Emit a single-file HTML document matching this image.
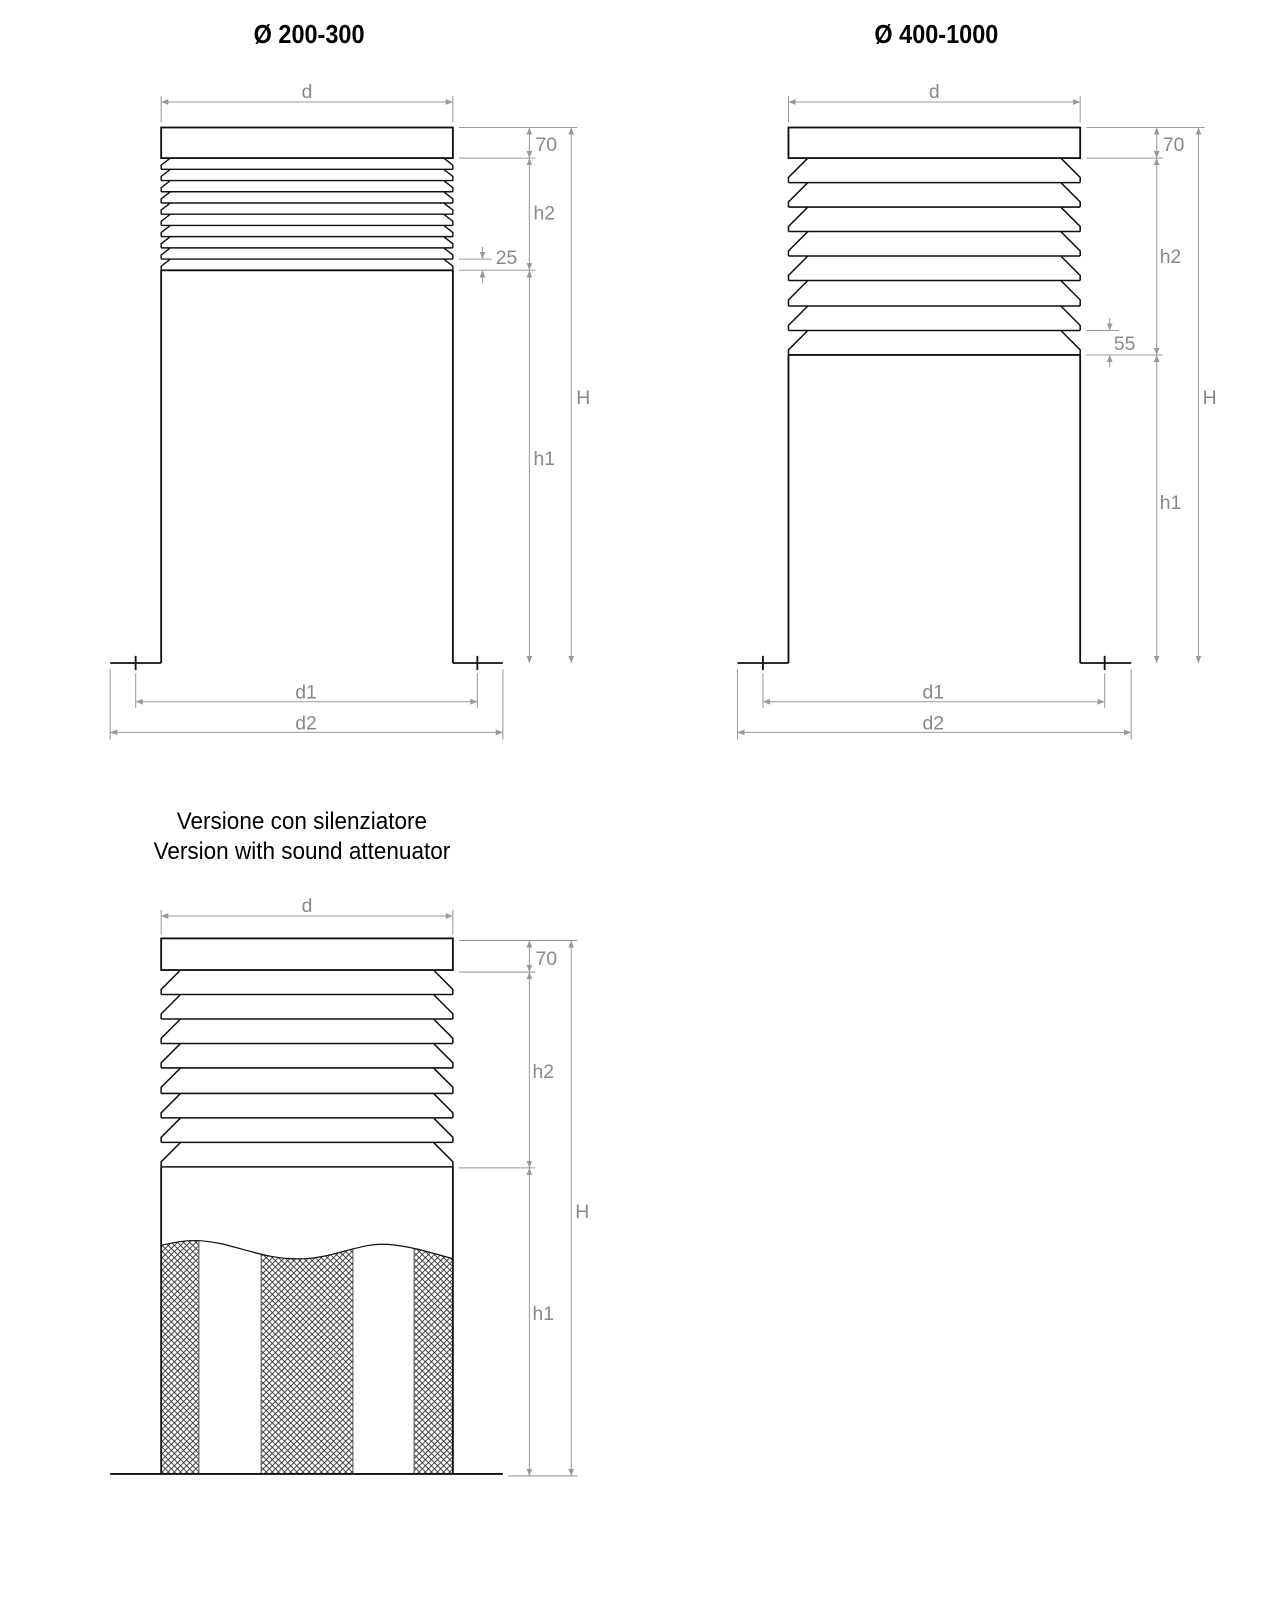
<!DOCTYPE html>
<html><head><meta charset="utf-8"><style>
html,body{margin:0;padding:0;background:#fff}
svg{display:block}
.t{font-family:"Liberation Sans",sans-serif}
.dim{font-family:"Liberation Sans",sans-serif;font-size:19px;fill:#888}
</style></head><body>
<svg width="1287" height="1600" viewBox="0 0 1287 1600" xmlns="http://www.w3.org/2000/svg">
<defs>
<marker id="a" viewBox="0 0 10 10" refX="10" refY="5" markerWidth="7" markerHeight="7" orient="auto-start-reverse"><path d="M0,1 L10,5 L0,9 z" fill="#999"/></marker>
<pattern id="hx" width="6" height="6" patternUnits="userSpaceOnUse">
<path d="M0,0 L6,6 M6,0 L0,6" stroke="#222" stroke-width="0.8"/>
</pattern>
<clipPath id="wc"><path d="M158,1221 C185,1214 200,1216 215,1219 C240,1224 265,1236 300,1234 C330,1232 355,1218 380,1220 C405,1222 425,1229 444,1234 V1445 H158 Z"/></clipPath>
</defs>
<g transform="scale(1.02)">
<text x="303" y="42" class="t" font-size="25" font-weight="bold" text-anchor="middle" transform="translate(303 0) scale(0.92 1) translate(-303 0)">Ø 200-300</text>
<text x="918" y="42" class="t" font-size="25" font-weight="bold" text-anchor="middle" transform="translate(918 0) scale(0.92 1) translate(-918 0)">Ø 400-1000</text>

<!-- Diagram 1 -->
<g fill="none" stroke="#111" stroke-width="1.8">
<rect x="158" y="125" width="286" height="30" fill="#fff"/>
<path d="M158,265 V650 M444,265 V650 M108,650 H158 M444,650 H493 M133,643 V657 M468,643 V657 M158,265 H444"/>
<path d="M167,155 L158,162 V166 M435,155 L444,162 V166 M158,166 H444 M167,166 L158,173 V177 M435,166 L444,173 V177 M158,177 H444 M167,177 L158,184 V188 M435,177 L444,184 V188 M158,188 H444 M167,188 L158,195 V199 M435,188 L444,195 V199 M158,199 H444 M167,199 L158,206 V210 M435,199 L444,206 V210 M158,210 H444 M167,210 L158,217 V221 M435,210 L444,217 V221 M158,221 H444 M167,221 L158,228 V232 M435,221 L444,228 V232 M158,232 H444 M167,232 L158,239 V243 M435,232 L444,239 V243 M158,243 H444 M167,243 L158,250 V254 M435,243 L444,250 V254 M158,254 H444 M167,254 L158,261 V265 M435,254 L444,261 V265" stroke-width="1.4"/>
</g>
<g stroke="#999" stroke-width="1" fill="none">
<path d="M158,94 V120 M444,94 V120 M450,125 H566 M450,155 H525 M450,265 H525 M450,254 H482 M108,656 V725 M493,656 V725 M133,660 V694 M468,660 V694"/>
<line x1="158" y1="100" x2="444" y2="100" marker-start="url(#a)" marker-end="url(#a)"/>
<line x1="519" y1="125" x2="519" y2="155" marker-start="url(#a)" marker-end="url(#a)"/>
<line x1="519" y1="155" x2="519" y2="265" marker-start="url(#a)" marker-end="url(#a)"/>
<line x1="519" y1="265" x2="519" y2="650" marker-start="url(#a)" marker-end="url(#a)"/>
<line x1="560" y1="125" x2="560" y2="650" marker-start="url(#a)" marker-end="url(#a)"/>
<line x1="473" y1="242" x2="473" y2="254" marker-end="url(#a)"/>
<line x1="473" y1="277" x2="473" y2="265" marker-end="url(#a)"/>
<line x1="133" y1="688" x2="468" y2="688" marker-start="url(#a)" marker-end="url(#a)"/>
<line x1="108" y1="718" x2="493" y2="718" marker-start="url(#a)" marker-end="url(#a)"/>
</g>
<text x="301" y="96" class="dim" text-anchor="middle">d</text>
<text x="525" y="148" class="dim">70</text>
<text x="523" y="215" class="dim">h2</text>
<text x="486" y="259" class="dim">25</text>
<text x="523" y="456" class="dim">h1</text>
<text x="565" y="396" class="dim">H</text>
<text x="300" y="685" class="dim" text-anchor="middle">d1</text>
<text x="300" y="715" class="dim" text-anchor="middle">d2</text>

<!-- Diagram 2 -->
<g fill="none" stroke="#111" stroke-width="1.8">
<rect x="773" y="125" width="286" height="30" fill="#fff"/>
<path d="M773,348 V650 M1059,348 V650 M723,650 H773 M1059,650 H1109 M748,643 V657 M1083,643 V657 M773,348 H1059"/>
<path stroke-width="1.5" d="
M792,155 L773,174 V179 M1040,155 L1059,174 V179 M773,179 H1059
M792,179 L773,198 V203 M1040,179 L1059,198 V203 M773,203 H1059
M792,203 L773,222 V227 M1040,203 L1059,222 V227 M773,227 H1059
M792,227 L773,246 V251 M1040,227 L1059,246 V251 M773,251 H1059
M792,251 L773,270 V275 M1040,251 L1059,270 V275 M773,275 H1059
M792,275 L773,294 V300 M1040,275 L1059,294 V300 M773,300 H1059
M792,300 L773,319 V324 M1040,300 L1059,319 V324 M773,324 H1059
M792,324 L773,343 V348 M1040,324 L1059,343 V348"/>
</g>
<g stroke="#999" stroke-width="1" fill="none">
<path d="M773,94 V120 M1059,94 V120 M1065,125 H1181 M1065,155 H1140 M1065,348 H1140 M1065,324 H1097 M723,656 V725 M1109,656 V725 M748,660 V694 M1083,660 V694"/>
<line x1="773" y1="100" x2="1059" y2="100" marker-start="url(#a)" marker-end="url(#a)"/>
<line x1="1134" y1="125" x2="1134" y2="155" marker-start="url(#a)" marker-end="url(#a)"/>
<line x1="1134" y1="155" x2="1134" y2="348" marker-start="url(#a)" marker-end="url(#a)"/>
<line x1="1134" y1="348" x2="1134" y2="650" marker-start="url(#a)" marker-end="url(#a)"/>
<line x1="1175" y1="125" x2="1175" y2="650" marker-start="url(#a)" marker-end="url(#a)"/>
<line x1="1088" y1="312" x2="1088" y2="324" marker-end="url(#a)"/>
<line x1="1088" y1="360" x2="1088" y2="348" marker-end="url(#a)"/>
<line x1="748" y1="688" x2="1083" y2="688" marker-start="url(#a)" marker-end="url(#a)"/>
<line x1="723" y1="718" x2="1109" y2="718" marker-start="url(#a)" marker-end="url(#a)"/>
</g>
<text x="916" y="96" class="dim" text-anchor="middle">d</text>
<text x="1140" y="148" class="dim">70</text>
<text x="1137" y="258" class="dim">h2</text>
<text x="1092" y="343" class="dim">55</text>
<text x="1137" y="499" class="dim">h1</text>
<text x="1179" y="396" class="dim">H</text>
<text x="915" y="685" class="dim" text-anchor="middle">d1</text>
<text x="915" y="715" class="dim" text-anchor="middle">d2</text>

<!-- Diagram 3 -->
<text x="296" y="813" class="t" font-size="24" text-anchor="middle" transform="translate(296 0) scale(0.92 1) translate(-296 0)">Versione con silenziatore</text>
<text x="296" y="842" class="t" font-size="24" text-anchor="middle" transform="translate(296 0) scale(0.92 1) translate(-296 0)">Version with sound attenuator</text>

<g clip-path="url(#wc)" fill="url(#hx)" stroke="#555" stroke-width="1">
<rect x="158" y="1200" width="37" height="245"/>
<rect x="256" y="1200" width="90" height="245"/>
<rect x="406" y="1200" width="38" height="245"/>
</g>
<path d="M158,1221 C185,1214 200,1216 215,1219 C240,1224 265,1236 300,1234 C330,1232 355,1218 380,1220 C405,1222 425,1229 444,1234" fill="none" stroke="#111" stroke-width="1.2"/>
<g fill="none" stroke="#111" stroke-width="1.8">
<rect x="158" y="920" width="286" height="31" fill="#fff"/>
<path d="M158,1144 V1445 M444,1144 V1445 M108,1445 H493"/>
<path stroke-width="1.5" d="
M177,951 L158,970 V975 M425,951 L444,970 V975 M158,975 H444
M177,975 L158,994 V999 M425,975 L444,994 V999 M158,999 H444
M177,999 L158,1018 V1023 M425,999 L444,1018 V1023 M158,1023 H444
M177,1023 L158,1042 V1047 M425,1023 L444,1042 V1047 M158,1047 H444
M177,1047 L158,1066 V1072 M425,1047 L444,1066 V1072 M158,1072 H444
M177,1072 L158,1091 V1096 M425,1072 L444,1091 V1096 M158,1096 H444
M177,1096 L158,1115 V1120 M425,1096 L444,1115 V1120 M158,1120 H444
M177,1120 L158,1139 V1144 M425,1120 L444,1139 V1144 M158,1144 H444"/>
</g>
<g stroke="#999" stroke-width="1" fill="none">
<path d="M158,892 V916 M444,892 V916 M450,922 H566 M450,953 H525 M450,1145 H525 M498,1447 H566"/>
<line x1="158" y1="898" x2="444" y2="898" marker-start="url(#a)" marker-end="url(#a)"/>
<line x1="519" y1="922" x2="519" y2="953" marker-start="url(#a)" marker-end="url(#a)"/>
<line x1="519" y1="953" x2="519" y2="1145" marker-start="url(#a)" marker-end="url(#a)"/>
<line x1="519" y1="1145" x2="519" y2="1447" marker-start="url(#a)" marker-end="url(#a)"/>
<line x1="560" y1="922" x2="560" y2="1447" marker-start="url(#a)" marker-end="url(#a)"/>
</g>
<text x="301" y="894" class="dim" text-anchor="middle">d</text>
<text x="525" y="946" class="dim">70</text>
<text x="522" y="1057" class="dim">h2</text>
<text x="522" y="1294" class="dim">h1</text>
<text x="564" y="1194" class="dim">H</text>
</g>
</svg>
</body></html>
